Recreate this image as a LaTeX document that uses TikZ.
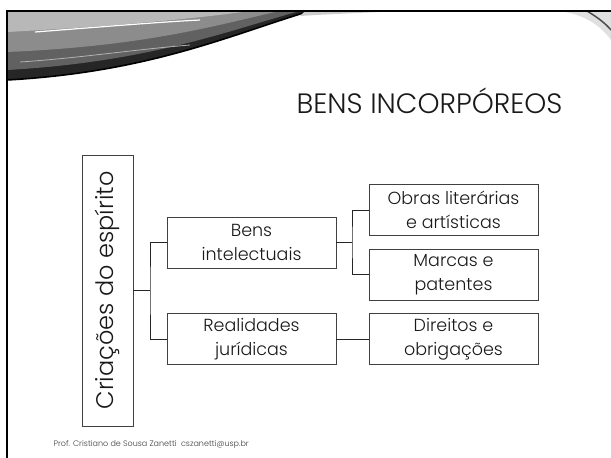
\documentclass[tikz,border=0pt]{standalone}
\usepackage{fontspec}
\setmainfont{Poppins}[UprightFont=* Light]
\usepackage{tikz}
\usetikzlibrary{positioning}

\tikzset{
  caixa/.style={draw=black!75, line width=.8pt, rectangle, minimum width=169pt, minimum height=51pt, inner sep=0pt, align=center, font=\fontsize{17.5}{24}\selectfont, text=black!90},
  liga/.style={draw=black!85, line width=.7pt}
}

\begin{document}
\begin{tikzpicture}[x=1pt,y=-1pt]
		\useasboundingbox (0,0) rectangle (611,458);
		% moldura do slide
		\fill[black!85] (7,11) -- (310,11) .. controls (230,35) and (150,72) .. (7,80) -- cycle;
		\fill[black!62] (7,11) -- (300,11) .. controls (230,30) and (150,62) .. (7,70) -- cycle;
		\fill[black!45] (7,11) -- (280,11) .. controls (220,24) and (150,46) .. (7,52) -- cycle;
		\fill[black!28] (7,11) -- (250,11) .. controls (200,18) and (120,26) .. (7,32) -- cycle;
		\draw[black, line width=1.6pt] (310,11) .. controls (230,35) and (150,72) .. (7,80);
		\draw[white, line width=1.2pt] (35,32) .. controls (100,27) and (160,22) .. (200,20);
		\draw[black!30, line width=.8pt] (20,62) .. controls (80,58) and (130,50) .. (190,45);
		\fill[black!20] (305,11) -- (400,11) .. controls (360,13) and (330,14) .. (300,16) -- cycle;
		\fill[black!12] (560,11) -- (611,11) -- (611,40) .. controls (600,25) and (585,15) .. (560,11) -- cycle;
		\draw[black!70, line width=1.5pt] (587,11) .. controls (597,17) and (605,23) .. (611,30);
		\draw[black, line width=2pt] (7,458) -- (7,11) -- (611,11);
		% titulo
		\node[anchor=base east, font=\fontsize{28}{30}\selectfont, text=black!90] (titulo) at (566,113) {BENS INCORPÓREOS};
		% caixas
		\node[draw=black!75, line width=.8pt, minimum width=271pt, minimum height=51pt, inner sep=0pt, rotate=90, font=\fontsize{24}{26}\selectfont, text=black!90] (cria) at (107.5,290.5) {Criações do espírito};
		\node[caixa] (bens) at (251.5,242.5) {Bens\\intelectuais};
		\node[caixa] (real) at (251.5,339) {Realidades\\jurídicas};
		\node[caixa] (obras) at (453.5,210) {Obras literárias\\e artísticas};
		\node[caixa] (marcas) at (453.5,274.5) {Marcas e\\patentes};
		\node[caixa] (dir) at (453.5,339) {Direitos e\\obrigações};
		\coordinate (j1) at (150,290.5);
		\coordinate (j2) at (352,242.5);
		% ligacoes
		\draw[liga] (cria.south |- j1) -- (j1);
		\draw[liga] (bens.west) -| (j1) |- (real.west);
		\draw[liga] (bens.east) -- (j2);
		\draw[liga] (obras.west) -| (j2) |- (marcas.west);
		\draw[liga] (real.east) -- (dir.west);
		% rodape
		\node[anchor=base west, font=\fontsize{8}{10}\selectfont, text=black!75] (rodape) at (50,446) {Prof. Cristiano de Sousa Zanetti\ \ cszanetti@usp.br};
    \end{tikzpicture}
\end{document}
